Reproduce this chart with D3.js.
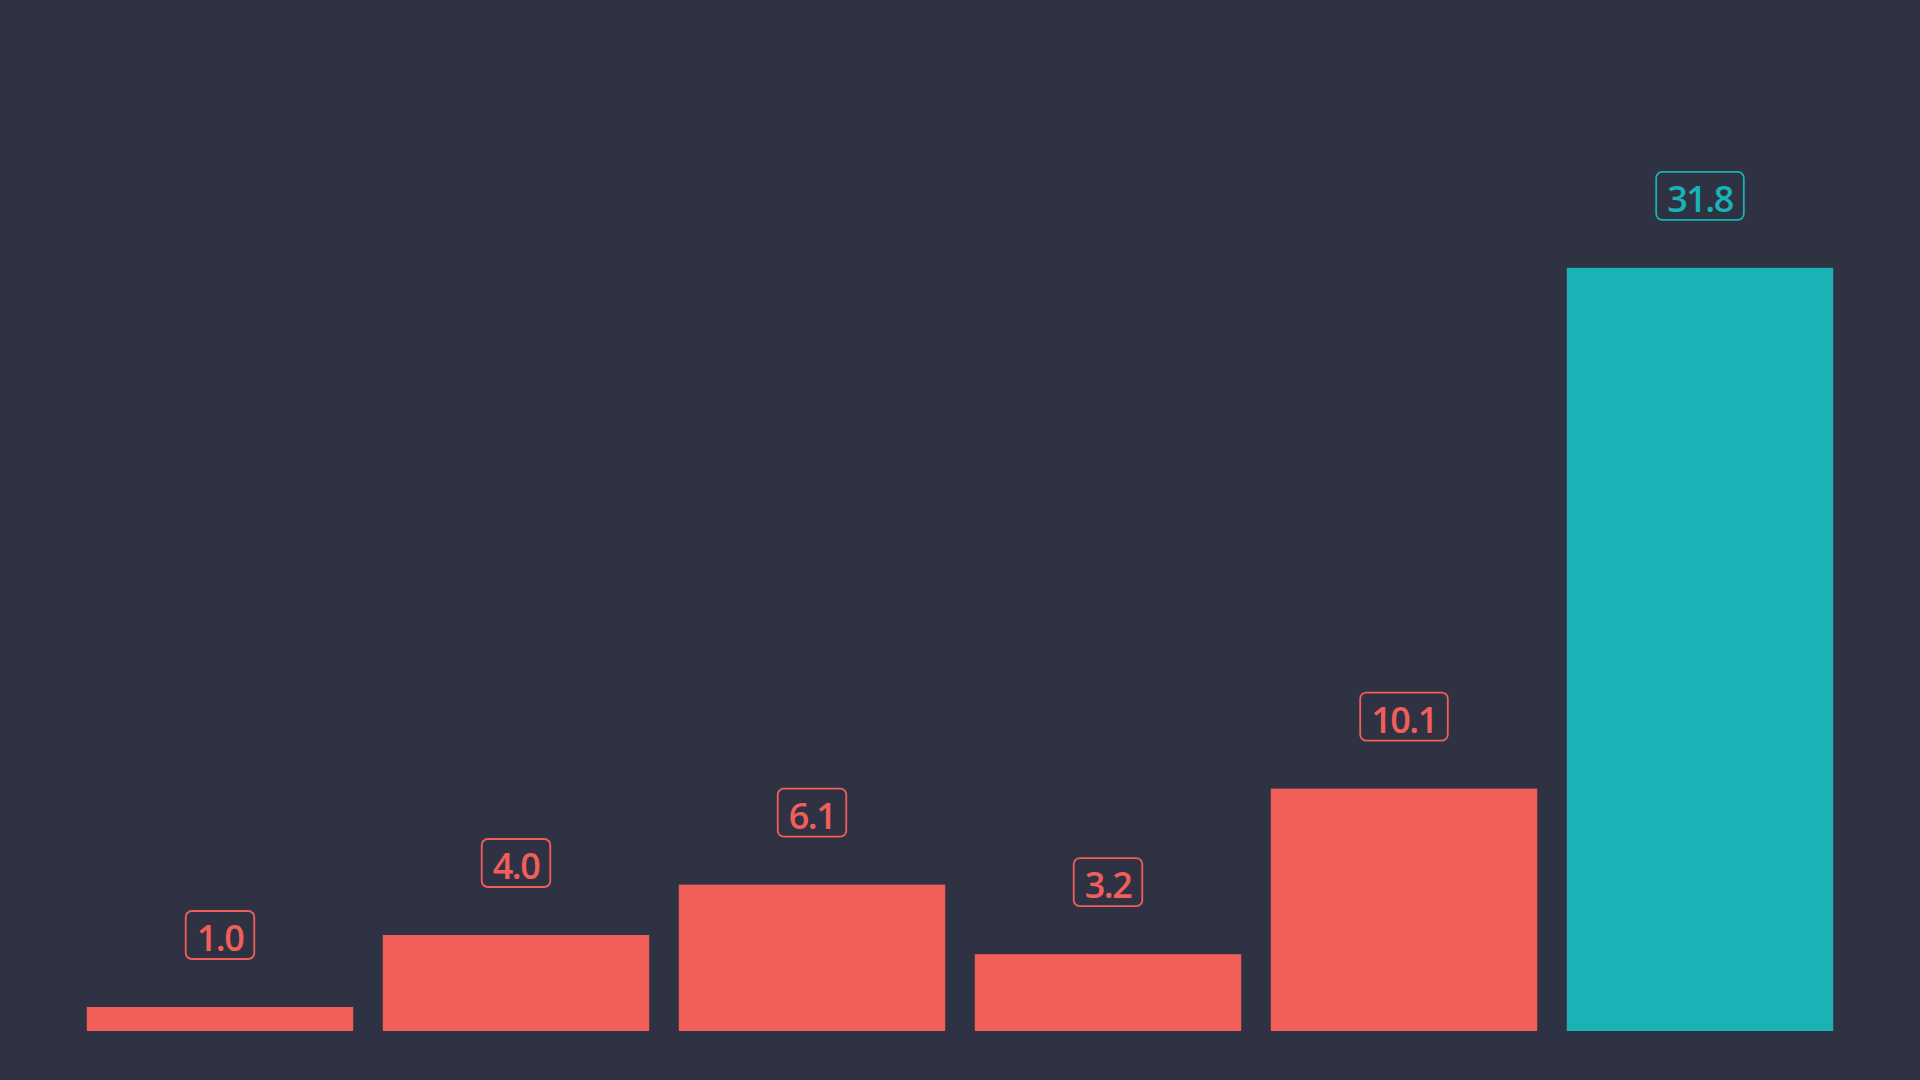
<!DOCTYPE html>
<html>
<head>
<meta charset="utf-8">
<script src="https://cdn.jsdelivr.net/npm/d3@7"></script>
<style>
  html, body { margin: 0; padding: 0; background: #2f3242; }
  svg { display: block; }
</style>
</head>
<body>
<svg id="chart" width="1920" height="1080"></svg>
<script>
const categories = ["A", "B", "C", "D", "E", "F"];
const values = [1.0, 4.0, 6.1, 3.2, 10.1, 31.8];
const highlight = ["F"];

const W = 1920, H = 1080;
const bg = "#2f3242", red = "#f25e5a", teal = "#19b3b6";

const svg = d3.select("#chart");
svg.append("rect").attr("width", W).attr("height", H).attr("fill", bg);

const x = d3.scaleBand().domain(categories).range([72, 1848]).paddingInner(0.1).paddingOuter(0.05);
const y = d3.scaleLinear().domain([0, 40]).range([1031, 71]);

const data = categories.map((c, i) => ({ c, v: values[i] }));
const col = d => highlight.includes(d.c) ? teal : red;

svg.selectAll("rect.bar").data(data).join("rect")
  .attr("class", "bar")
  .attr("x", d => x(d.c))
  .attr("width", x.bandwidth())
  .attr("y", d => y(d.v))
  .attr("height", d => y(0) - y(d.v))
  .attr("fill", col);

const lab = svg.selectAll("g.lab").data(data).join("g")
  .attr("class", "lab")
  .attr("transform", d => `translate(${x(d.c) + x.bandwidth() / 2},${y(d.v) - 48})`);

const boxes = lab.append("rect")
  .attr("y", -48).attr("height", 48)
  .attr("rx", 6).attr("ry", 6)
  .attr("fill", "none")
  .attr("stroke", col)
  .attr("stroke-width", 1.8);

const texts = lab.append("text")
  .attr("text-anchor", "middle")
  .attr("y", -8)
  .attr("fill", col)
  .style("font-family", "'Open Sans', sans-serif")
  .style("font-weight", 600)
  .style("font-size", "36px")
  .style("letter-spacing", "-1.5px")
  .text(d => d3.format(".1f")(d.v));

texts.each(function (d) {
  d.bw = this.getComputedTextLength() + 22;
});
boxes.attr("x", d => -d.bw / 2).attr("width", d => d.bw);
</script>
</body>
</html>
